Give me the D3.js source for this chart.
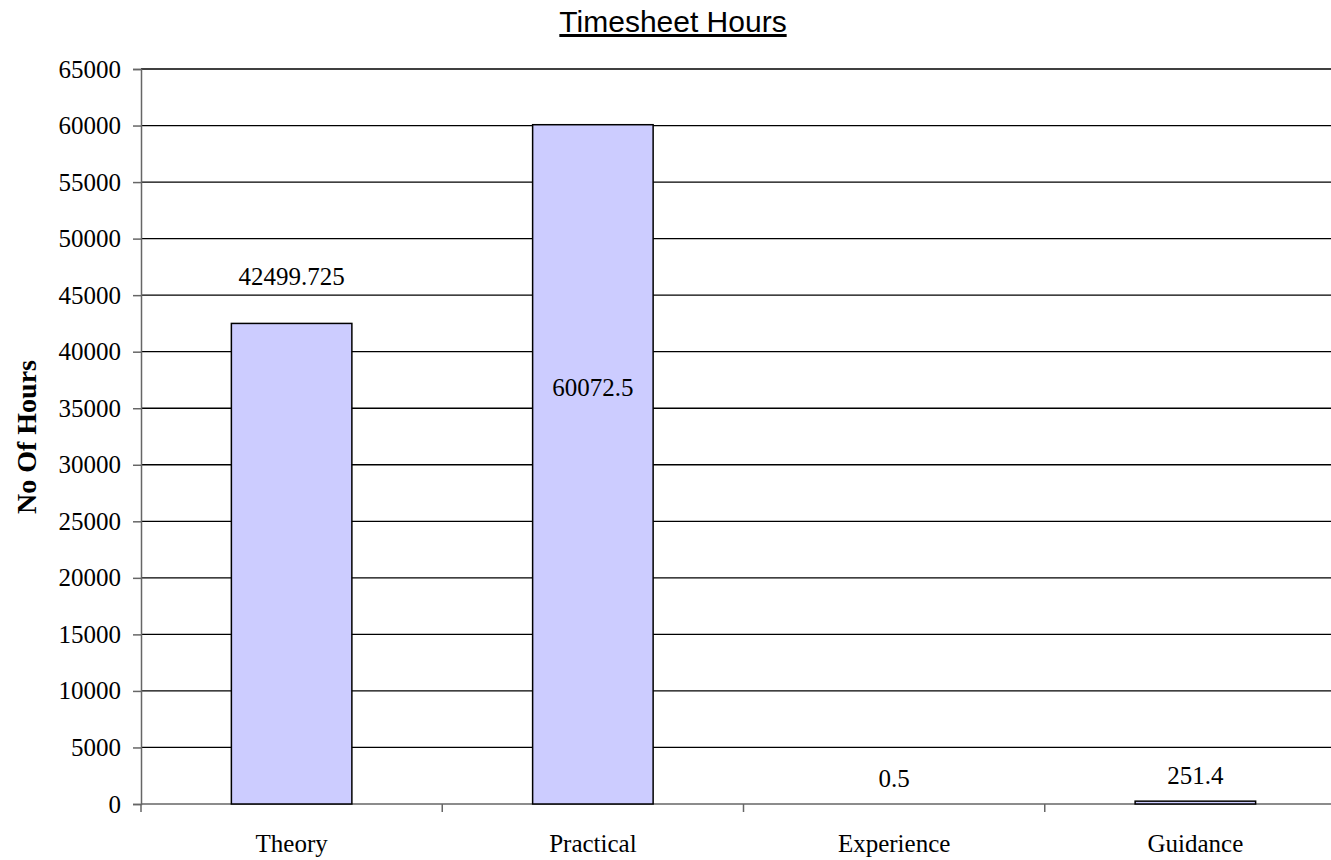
<!DOCTYPE html>
<html>
<head>
<meta charset="utf-8">
<script src="https://cdn.jsdelivr.net/npm/d3@7"></script>
<style>
  body { margin: 0; background: #fff; }
  svg { display: block; }
</style>
</head>
<body>
<svg id="chart" width="1331" height="860"></svg>
<script>
// chart values
var categories = ["Theory", "Practical", "Experience", "Guidance"];
var hours = [42499.725, 60072.5, 0.5, 251.4];
var labelText = ["42499.725", "60072.5", "0.5", "251.4"];
var yTicks = [0, 5000, 10000, 15000, 20000, 25000, 30000, 35000, 40000, 45000, 50000, 55000, 60000, 65000];

var serif = "'Liberation Serif', 'Times New Roman', serif";
var svg = d3.select("#chart");
// plot box (right edge runs past the picture, as in the original)
var plotLeft = 141, plotRight = 1346, plotTop = 69, plotBottom = 804;

var x = d3.scaleBand().domain(categories).range([plotLeft, plotRight]).paddingInner(0.6).paddingOuter(0.3);
var xb = d3.scaleBand().domain(categories).range([plotLeft, plotRight]);
var y = d3.scaleLinear().domain([0, 65000]).range([plotBottom, plotTop]);

// gridlines
svg.append("g").selectAll("line")
  .data(yTicks.filter(function(d) { return d > 0; }))
  .enter().append("line")
  .attr("x1", plotLeft).attr("x2", 1331)
  .attr("y1", function(d) { return y(d); })
  .attr("y2", function(d) { return y(d); })
  .attr("stroke", "#000").attr("stroke-width", 1.3);

// y axis
var yAxis = svg.append("g")
  .attr("transform", "translate(" + plotLeft + ",0)")
  .call(d3.axisLeft(y).tickValues(yTicks).tickSize(8).tickPadding(12).tickFormat(d3.format("d")))
  .attr("font-family", serif).attr("font-size", 25);
yAxis.select(".domain").attr("stroke", "#666").attr("stroke-width", 1.5);
yAxis.selectAll(".tick line").attr("stroke", "#666").attr("stroke-width", 1.5);
yAxis.selectAll("text").attr("fill", "#000");

// x axis
var xAxis = svg.append("g")
  .attr("transform", "translate(0," + plotBottom + ")")
  .call(d3.axisBottom(xb).tickSize(0).tickPadding(30))
  .attr("font-family", serif).attr("font-size", 25);
xAxis.select(".domain").attr("stroke", "#666").attr("stroke-width", 1.5)
  .attr("d", "M" + plotLeft + ",0H1331");
xAxis.selectAll("text").attr("fill", "#000");

// category separator ticks
svg.append("g").selectAll("line")
  .data(categories)
  .enter().append("line")
  .attr("x1", function(d) { return xb(d); })
  .attr("x2", function(d) { return xb(d); })
  .attr("y1", plotBottom).attr("y2", plotBottom + 8)
  .attr("stroke", "#666").attr("stroke-width", 1.5);

// bars (a bar under one pixel tall does not show at all)
svg.append("g").selectAll("rect")
  .data(hours)
  .enter().append("rect")
  .attr("x", function(d, i) { return x(categories[i]); })
  .attr("width", x.bandwidth())
  .attr("y", function(d) { return y(d); })
  .attr("height", function(d) { return plotBottom - y(d); })
  .attr("fill", "#ccccff")
  .attr("stroke", function(d) { return plotBottom - y(d) < 1 ? "none" : "#000"; })
  .attr("stroke-width", 1.5);

// value labels (Excel placed them a bit unevenly)
function labelY(d, i) {
  if (i === 1) return y(d * 0.6);      // inside the tall bar
  if (i === 0) return y(d) - 38;
  return y(d) - 17;
}
svg.append("g").selectAll("text")
  .data(hours)
  .enter().append("text")
  .attr("x", function(d, i) { return xb(categories[i]) + xb.bandwidth() / 2; })
  .attr("y", labelY)
  .attr("text-anchor", "middle")
  .style("font-family", serif)
  .style("font-size", "25px")
  .text(function(d, i) { return labelText[i]; });

// title
svg.append("text")
  .attr("x", 673).attr("y", 32)
  .attr("text-anchor", "middle")
  .style("font-family", "'Liberation Sans', Arial, sans-serif")
  .style("font-size", "30px")
  .style("text-decoration", "underline")
  .text("Timesheet Hours");

// y axis title
svg.append("text")
  .attr("transform", "translate(36,437) rotate(-90)")
  .attr("text-anchor", "middle")
  .style("font-family", serif)
  .style("font-size", "28px")
  .style("font-weight", "bold")
  .text("No Of Hours");
</script>
</body>
</html>
